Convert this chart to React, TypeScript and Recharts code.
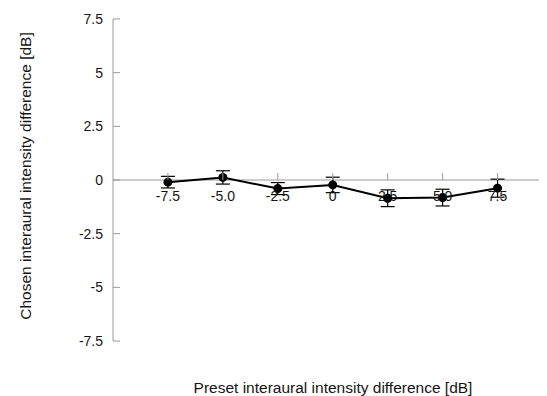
import { LineChart, Line, XAxis, YAxis, ErrorBar, ReferenceLine, Label } from "recharts";

const presetIID = [-7.5, -5.0, -2.5, 0, 2.5, 5.0, 7.5];
const chosenMean = [-0.1, 0.12, -0.4, -0.23, -0.85, -0.82, -0.38];
const chosenErr = [0.27, 0.31, 0.28, 0.36, 0.39, 0.39, 0.42];

const xTicks = [-7.5, -5.0, -2.5, 0, 2.5, 5.0, 7.5];
const xTickLabels = ["-7.5", "-5.0", "-2.5", "0", "2.5", "5.0", "7.5"];
const yTicks = [7.5, 5, 2.5, 0, -2.5, -5, -7.5];
const yTickLabels = ["7.5", "5", "2.5", "0", "-2.5", "-5", "-7.5"];

const data = presetIID.map((x, i) => ({ x, mean: chosenMean[i], err: chosenErr[i] }));

const FONT = "'Liberation Sans', Arial, sans-serif";
const AXIS = "#9a9a9a";
const INK = "#151515";

const W = 539;
const H = 388;
const TOP = 11;
const XAXIS_H = 55;
const PLOT_H = H - TOP - XAXIS_H;

// x axis crosses at y = 0, which sits in the middle of the symmetric y domain
const ZERO_SHIFT = -PLOT_H / 2;

function XTick({ x, y, payload }: any) {
  const i = xTicks.indexOf(payload.value);
  const y0 = y + ZERO_SHIFT;
  return (
    <g>
      <line x1={x} x2={x} y1={y0 - 7} y2={y0} stroke={AXIS} strokeWidth={1} />
      <text x={x} y={y0 + 16} textAnchor="middle" dominantBaseline="central" fontSize={14} fill={INK} fontFamily={FONT}>
        {i >= 0 ? xTickLabels[i] : payload.value}
      </text>
    </g>
  );
}

function YTick({ x, y, payload }: any) {
  const i = yTicks.indexOf(payload.value);
  return (
    <g>
      <line x1={x} x2={x + 7} y1={y} y2={y} stroke={AXIS} strokeWidth={1} />
      <text x={x - 10} y={y} textAnchor="end" dominantBaseline="central" fontSize={14} fill={INK} fontFamily={FONT}>
        {i >= 0 ? yTickLabels[i] : payload.value}
      </text>
    </g>
  );
}

export default function App() {
  return (
    <div style={{ width: W, height: H, fontFamily: FONT }}>
      <LineChart width={W} height={H} data={data} margin={{ top: TOP, right: 0, bottom: 0, left: 0 }}>
        <XAxis
          type="number"
          dataKey="x"
          domain={[-10, 9.75]}
          ticks={xTicks}
          allowDataOverflow
          axisLine={false}
          tickLine={false}
          tickSize={0}
          tickMargin={0}
          height={XAXIS_H}
          tick={<XTick />}
        >
          <Label
            value="Preset interaural intensity difference [dB]"
            position="insideBottom"
            offset={3}
            dx={3}
            style={{ fontSize: 15.5, fill: INK, fontFamily: FONT }}
          />
        </XAxis>
        <YAxis
          type="number"
          domain={[-7.5, 7.5]}
          ticks={yTicks}
          width={105}
          axisLine={{ stroke: AXIS }}
          tickLine={false}
          tickSize={0}
          tickMargin={0}
          tick={<YTick />}
        >
          <Label
            content={({ viewBox }: any) => {
              const cx = viewBox.x + 17;
              const cy = viewBox.y + viewBox.height / 2 - 4;
              return (
                <text
                  x={cx}
                  y={cy}
                  transform={`rotate(-90 ${cx} ${cy})`}
                  textAnchor="middle"
                  dominantBaseline="central"
                  fontSize={15.5}
                  fill={INK}
                  fontFamily={FONT}
                >
                  Chosen interaural intensity difference [dB]
                </text>
              );
            }}
          />
        </YAxis>
        <ReferenceLine y={0} stroke={AXIS} strokeWidth={1} />
        <Line
          type="linear"
          dataKey="mean"
          stroke="#000"
          strokeWidth={2}
          dot={{ r: 4.5, fill: "#000", stroke: "#000", strokeWidth: 0 }}
          isAnimationActive={false}
        >
          <ErrorBar dataKey="err" direction="y" width={7} stroke="#000" strokeWidth={1.2} isAnimationActive={false} />
        </Line>
      </LineChart>
    </div>
  );
}
